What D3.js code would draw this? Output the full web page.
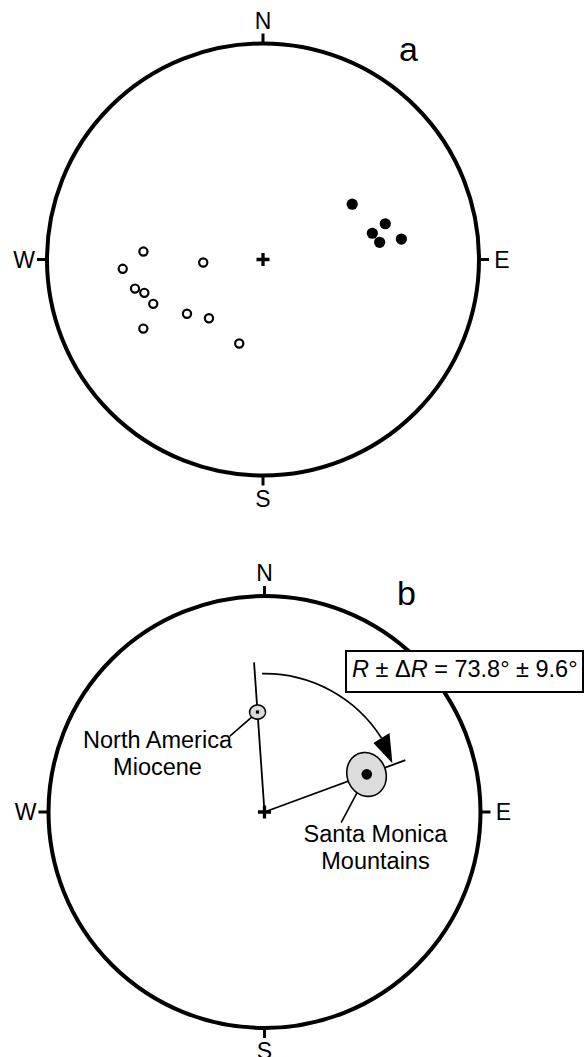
<!DOCTYPE html>
<html>
<head>
<meta charset="utf-8">
<script src="https://cdn.jsdelivr.net/npm/d3@7"></script>
<style>
  body { margin: 0; background: #fff; }
  svg { display: block; font-family: "Liberation Sans", Arial, Helvetica, sans-serif; }
</style>
</head>
<body>
<svg id="chart" width="584" height="1057"></svg>
<script>
// panel a: site mean directions (declination, inclination in degrees)
// positive inclination -> lower hemisphere (filled), negative -> upper (open)
const normalDec = [58.2, 73.7, 76.5, 81.6, 81.6];
const normalInc = [49.8, 40.7, 46.8, 44.6, 35.5];
const reversedDec = [273.8, 266.2, 267.1, 257.2, 254.3, 248.0, 240.0, 234.5, 222.6, 195.8];
const reversedInc = [-43.8, -35.2, -67.4, -39.1, -42.4, -44.4, -36.2, -54.4, -59.7, -56.8];

// panel b: expected vs observed direction
const poleLabels = [["North America", "Miocene"], ["Santa Monica", "Mountains"]];
const poleDec = [356.0, 69.8];
const poleInc = [51.7, 48.2];
const poleA95 = [2.8, 7.8];
const rotation = [73.8, 9.6];   // R, delta R

const compassLabels = ["N", "E", "S", "W"];
const compassDec = [0, 90, 180, 270];

const R = 216;
const svg = d3.select("#chart");

// lower hemisphere equal-area net, declination clockwise from north
function makeProjection(cx, cy) {
    return d3.geoAzimuthalEqualArea()
        .reflectX(true)
        .rotate([180, -90])
        .scale(R / Math.SQRT2)
        .translate([cx, cy]);
}

function drawNet(g, cx, cy) {
    g.append("circle")
        .attr("cx", cx).attr("cy", cy).attr("r", R)
        .attr("fill", "none")
        .attr("stroke", "#000")
        .attr("stroke-width", 4);

    const rad = d => d * Math.PI / 180;
    compassDec.forEach((d, i) => {
        const sx = Math.sin(rad(d)), sy = -Math.cos(rad(d));
        g.append("line")
            .attr("x1", cx + sx * (R + 1)).attr("y1", cy + sy * (R + 1))
            .attr("x2", cx + sx * (R + 10)).attr("y2", cy + sy * (R + 10))
            .attr("stroke", "#000")
            .attr("stroke-width", 3);
        g.append("text")
            .attr("x", cx + sx * 239).attr("y", cy + sy * 239)
            .attr("dy", "0.35em")
            .attr("text-anchor", "middle")
            .style("font-size", "23px")
            .text(compassLabels[i]);
    });

    // centre cross
    g.append("path")
        .attr("d", `M${cx - 6.5},${cy}H${cx + 6.5}M${cx},${cy - 6.5}V${cy + 6.5}`)
        .attr("stroke", "#000")
        .attr("stroke-width", 3.3);
}

// ---------- panel a ----------
const ax = 263, ay = 259.5;
const projA = makeProjection(ax, ay);
const gA = svg.append("g");
drawNet(gA, ax, ay);

gA.selectAll(".rev")
    .data(reversedDec.map((d, i) => [d, Math.abs(reversedInc[i])]))
    .enter().append("circle")
    .attr("class", "rev")
    .attr("cx", d => projA(d)[0])
    .attr("cy", d => projA(d)[1])
    .attr("r", 4.1)
    .attr("fill", "#fff")
    .attr("stroke", "#000")
    .attr("stroke-width", 2.2);

gA.selectAll(".norm")
    .data(normalDec.map((d, i) => [d, normalInc[i]]))
    .enter().append("circle")
    .attr("class", "norm")
    .attr("cx", d => projA(d)[0])
    .attr("cy", d => projA(d)[1])
    .attr("r", 5.6)
    .attr("fill", "#000");

gA.append("text")
    .attr("x", 399).attr("y", 61)
    .style("font-size", "34px")
    .text("a");

// ---------- panel b ----------
const bx = 264.5, by = 812;
const projB = makeProjection(bx, by);
const pathB = d3.geoPath(projB);
const gB = svg.append("g");
drawNet(gB, bx, by);

const poles = poleDec.map((d, i) => projB([d, poleInc[i]]));

// radial lines through each pole
poles.forEach(p => {
    const dx = p[0] - bx, dy = p[1] - by, len = Math.hypot(dx, dy);
    gB.append("line")
        .attr("x1", bx).attr("y1", by)
        .attr("x2", bx + dx / len * 150).attr("y2", by + dy / len * 150)
        .attr("stroke", "#000")
        .attr("stroke-width", 1.8);
});

// leader lines
const leaderOff = [[-27.6, 24], [-25.6, 48.3]];
poles.forEach((p, i) => {
    gB.append("line")
        .attr("x1", p[0]).attr("y1", p[1])
        .attr("x2", p[0] + leaderOff[i][0]).attr("y2", p[1] + leaderOff[i][1])
        .attr("stroke", "#000")
        .attr("stroke-width", 1.6);
});

// confidence cones
gB.selectAll(".cone")
    .data(poleDec.map((d, i) => d3.geoCircle().center([d, poleInc[i]]).radius(poleA95[i]).precision(2)()))
    .enter().append("path")
    .attr("class", "cone")
    .attr("d", pathB)
    .attr("fill", "#dcdcdc")
    .attr("stroke", "#000")
    .attr("stroke-width", 1.6);

// mean directions
gB.append("rect")
    .attr("x", poles[0][0] - 1.6).attr("y", poles[0][1] - 1.6)
    .attr("width", 3.2).attr("height", 3.2)
    .attr("fill", "#000");
gB.append("circle")
    .attr("cx", poles[1][0]).attr("cy", poles[1][1])
    .attr("r", 5.3)
    .attr("fill", "#000");

// rotation arc with arrow head
const arcR = 138.4;
const a0 = poleDec[0] + 3, tipA = poleDec[1] - 0.7, baseA = tipA - 11.4;
const toScreen = d => (d - 90) * Math.PI / 180;
const arcPath = d3.path();
arcPath.arc(bx, by, arcR, toScreen(a0), toScreen(baseA), false);
gB.append("path")
    .attr("d", arcPath.toString())
    .attr("fill", "none")
    .attr("stroke", "#000")
    .attr("stroke-width", 1.6);

const polar = (a, r) => [bx + r * Math.sin(a * Math.PI / 180), by - r * Math.cos(a * Math.PI / 180)];
gB.append("path")
    .attr("d", d3.line()([polar(baseA, arcR - 9.5), polar(baseA, arcR + 9.5), polar(tipA, arcR - 1.5)]) + "Z")
    .attr("fill", "#000");

// labels
const labelOff = [[-100, 36.3], [8.7, 68]];
poles.forEach((p, i) => {
    poleLabels[i].forEach((t, j) => {
        gB.append("text")
            .attr("x", p[0] + labelOff[i][0])
            .attr("y", p[1] + labelOff[i][1] + j * 26.5)
            .attr("text-anchor", "middle")
            .style("font-size", "23.5px")
            .text(t);
    });
});

// rotation box
gB.append("rect")
    .attr("x", 346).attr("y", 651)
    .attr("width", 237).attr("height", 41)
    .attr("fill", "#fff")
    .attr("stroke", "#000")
    .attr("stroke-width", 2);
const rt = gB.append("text")
    .attr("x", 352).attr("y", 677)
    .style("font-size", "23.5px");
rt.append("tspan").style("font-style", "italic").text("R");
rt.append("tspan").text(" \u00b1 \u0394");
rt.append("tspan").style("font-style", "italic").text("R");
rt.append("tspan").text(` = ${rotation[0]}\u00b0 \u00b1 ${rotation[1]}\u00b0`);

gB.append("text")
    .attr("x", 397).attr("y", 605)
    .style("font-size", "34px")
    .text("b");
</script>
</body>
</html>
